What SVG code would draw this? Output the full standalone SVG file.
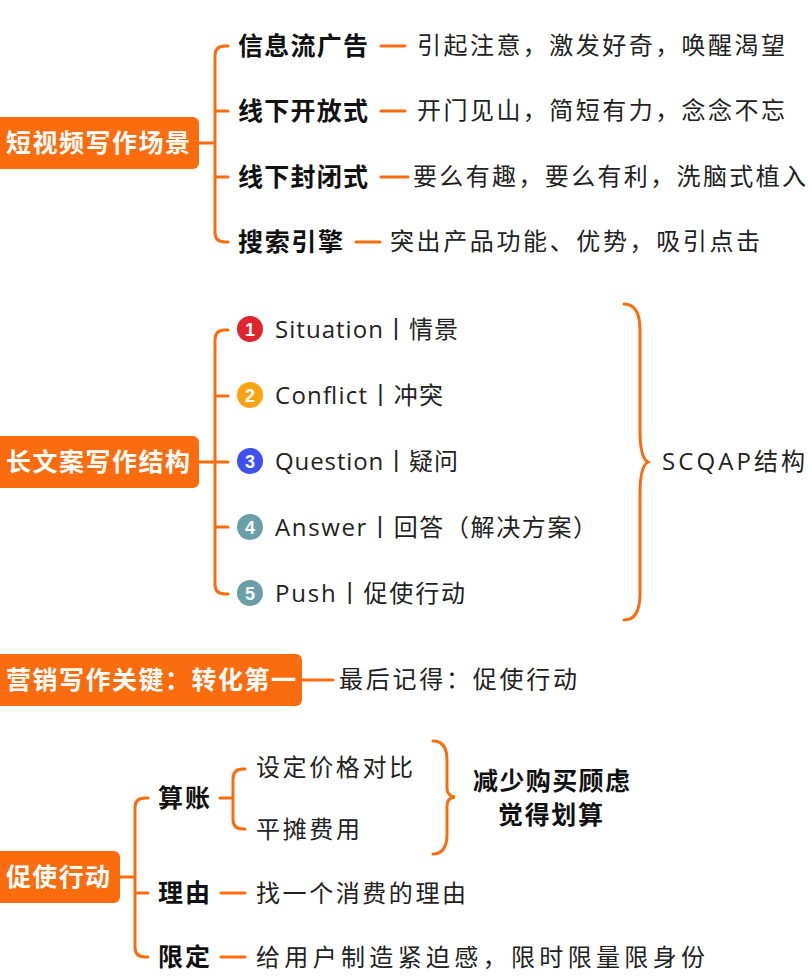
<svg xmlns="http://www.w3.org/2000/svg" width="812" height="978" viewBox="0 0 812 978">
<style>
.box{fill:#fa6c0e}
.rt{font-family:"Noto Sans CJK SC",sans-serif;font-weight:bold;font-size:25px;fill:#fff}
.b{font-family:"Noto Sans CJK SC",sans-serif;font-weight:bold;font-size:25px;fill:#111}
.n{font-family:"Open Sans","Noto Sans CJK SC",sans-serif;font-size:24px;fill:#222}
.c{fill:none;stroke:#fa6c0e;stroke-width:3;stroke-linecap:round}
.num{font-family:"Liberation Sans",sans-serif;font-weight:bold;font-size:18px;fill:#fff;text-anchor:middle}
</style>
<rect width="812" height="978" fill="#fff"/>
<g id="connectors">
<path class="c" d="M199 143H215M228 46H225Q215 46 215 56V232Q215 242 225 242H228M215 111Q215 111 225 111H228M215 177H228"/>
<path class="c" d="M381 46H405M381 111H405M381 177H408M356 242H380"/>
<path class="c" d="M199 462H228M228 330H225Q215 330 215 340V584Q215 594 225 594H228M215 396H228M215 527H228"/>
<path class="c" d="M624 304Q640 304 640 330V430Q640 458 648 462Q640 466 640 494V594Q640 620 624 620"/>
<path class="c" d="M302 680H333"/>
<path class="c" d="M120 877H135M148 798H145Q135 798 135 808V947Q135 957 145 957H148M135 893H148"/>
<path class="c" d="M220 798H233M245 769H243Q233 769 233 779V819Q233 829 243 829H245"/>
<path class="c" d="M433 741Q447 741 447 760V788Q447 796 455 797Q447 798 447 806V834Q447 854 433 854"/>
<path class="c" d="M221 893H245M221 957H245"/>
</g>
<g id="root1"><rect class="box" x="-6" y="117" width="205" height="52" rx="6"/><text class="rt" x="6" y="152" textLength="184">短视频写作场景</text></g>
<g id="n1a"><text class="b" x="238" y="55" textLength="130">信息流广告</text><text class="n" x="417" y="54" textLength="368">引起注意，激发好奇，唤醒渴望</text></g>
<g id="n1b"><text class="b" x="238" y="120" textLength="130">线下开放式</text><text class="n" x="417" y="119" textLength="368">开门见山，简短有力，念念不忘</text></g>
<g id="n1c"><text class="b" x="238" y="186" textLength="130">线下封闭式</text><text class="n" x="413" y="185" textLength="393">要么有趣，要么有利，洗脑式植入</text></g>
<g id="n1d"><text class="b" x="238" y="251" textLength="105">搜索引擎</text><text class="n" x="390" y="250" textLength="370">突出产品功能、优势，吸引点击</text></g>
<g id="root2"><rect class="box" x="-6" y="436" width="205" height="52" rx="6"/><text class="rt" x="6" y="471" textLength="184">长文案写作结构</text></g>
<g id="s1"><circle cx="250" cy="329" r="13" fill="#e0242c"/><text class="num" x="250" y="336">1</text><text class="n" x="275" y="338" textLength="183">Situation丨情景</text></g>
<g id="s2"><circle cx="250" cy="395" r="13" fill="#fca311"/><text class="num" x="250" y="402">2</text><text class="n" x="275" y="404" textLength="168">Conflict丨冲突</text></g>
<g id="s3"><circle cx="250" cy="461" r="13" fill="#4050f0"/><text class="num" x="250" y="468">3</text><text class="n" x="275" y="470" textLength="183">Question丨疑问</text></g>
<g id="s4"><circle cx="250" cy="527" r="13" fill="#6a9ea8"/><text class="num" x="250" y="534">4</text><text class="n" x="275" y="536" textLength="322">Answer丨回答（解决方案）</text></g>
<g id="s5"><circle cx="250" cy="593" r="13" fill="#6a9ea8"/><text class="num" x="250" y="600">5</text><text class="n" x="275" y="602" textLength="190">Push丨促使行动</text></g>
<g id="scqap"><text class="n" x="662" y="470" textLength="143">SCQAP结构</text></g>
<g id="root3"><rect class="box" x="-6" y="654" width="308" height="52" rx="6"/><text class="rt" x="6" y="689" textLength="290">营销写作关键：转化第一</text><text class="n" x="339" y="688" textLength="238">最后记得：促使行动</text></g>
<g id="root4"><rect class="box" x="-6" y="851" width="126" height="52" rx="6"/><text class="rt" x="6" y="886" textLength="104">促使行动</text></g>
<g id="suan"><text class="b" x="158" y="807" textLength="52">算账</text><text class="n" x="256" y="776" textLength="157">设定价格对比</text><text class="n" x="256" y="838" textLength="104">平摊费用</text></g>
<g id="summary"><text class="b" x="473" y="790" textLength="157">减少购买顾虑</text><text class="b" x="498" y="824" textLength="105">觉得划算</text></g>
<g id="liyou"><text class="b" x="158" y="902" textLength="52">理由</text><text class="n" x="256" y="902" textLength="210">找一个消费的理由</text></g>
<g id="xianding"><text class="b" x="158" y="966" textLength="52">限定</text><text class="n" x="256" y="966" textLength="449">给用户制造紧迫感，限时限量限身份</text></g>
</svg>
